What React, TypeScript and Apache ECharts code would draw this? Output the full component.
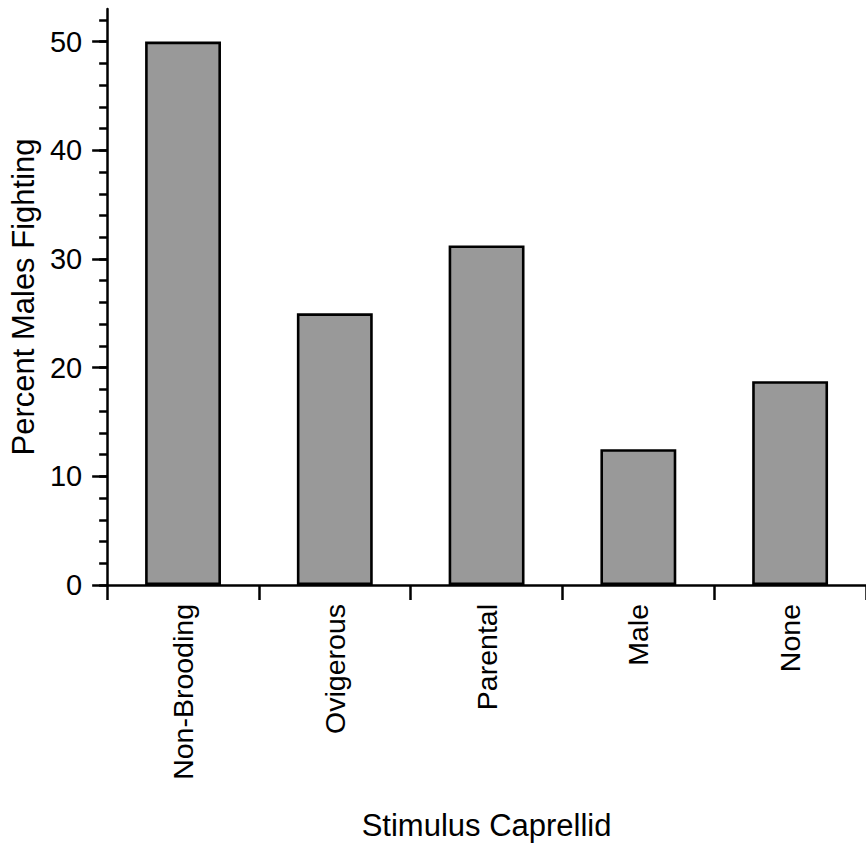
import React, { useEffect, useRef } from "react";
import * as echarts from "echarts";

const categories = ["Non-Brooding", "Ovigerous", "Parental", "Male", "None"];
const percentFighting = [50, 25, 31.25, 12.5, 18.75];
const majorTicks = [0, 10, 20, 30, 40, 50];
const minorTicks = [0, 2, 4, 6, 8, 10, 12, 14, 16, 18, 20, 22, 24, 26, 28, 30, 32, 34, 36, 38, 40, 42, 44, 46, 48, 50, 52];

const FONT = "'Liberation Sans', Arial, sans-serif";

export default function App() {
  const ref = useRef<HTMLDivElement>(null);

  useEffect(() => {
    if (!ref.current) return;
    const chart = echarts.init(ref.current, undefined, { renderer: "svg" });
    chart.setOption({
      animation: false,
      backgroundColor: "#ffffff",
      grid: { left: 106, top: 9, width: 765, height: 576, containLabel: false },
      xAxis: {
        type: "category",
        data: categories,
        boundaryGap: true,
        name: "Stimulus Caprellid",
        nameLocation: "middle",
        nameGap: 225,
        nameTextStyle: { fontFamily: FONT, fontSize: 31, color: "#000" },
        axisLine: { show: true, lineStyle: { color: "#000", width: 2.5 } },
        axisTick: { show: true, alignWithLabel: false, length: 15, lineStyle: { color: "#000", width: 2.5 } },
        axisLabel: {
          rotate: 90,
          margin: 19,
          fontFamily: FONT,
          fontSize: 28.5,
          color: "#000",
        },
        splitLine: { show: false },
      },
      yAxis: [
        {
          type: "value",
          min: 0,
          max: 53,
          name: "Percent Males Fighting",
          nameLocation: "middle",
          nameGap: 57,
          nameTextStyle: { fontFamily: FONT, fontSize: 31, color: "#000" },
          axisLine: { show: true, lineStyle: { color: "#000", width: 2.5 } },
          axisTick: { show: true, length: 15, customValues: majorTicks, lineStyle: { color: "#000", width: 2.5 } },
          axisLabel: { customValues: majorTicks, margin: 25, fontFamily: FONT, fontSize: 29, color: "#000" },
          splitLine: { show: false },
        },
        {
          type: "value",
          min: 0,
          max: 53,
          position: "left",
          axisLine: { show: false },
          axisTick: { show: true, length: 8, customValues: minorTicks, lineStyle: { color: "#000", width: 2.5 } },
          axisLabel: { show: false },
          splitLine: { show: false },
        },
      ],
      series: [
        {
          type: "bar",
          data: percentFighting,
          barWidth: "50%",
          itemStyle: { color: "#999999", borderColor: "#000", borderWidth: 2.6 },
        },
      ],
    });
    return () => chart.dispose();
  }, []);

  return (
    <div
      ref={ref}
      style={{ position: "fixed", left: 0, top: 0, width: 866, height: 848, background: "#fff" }}
    />
  );
}
